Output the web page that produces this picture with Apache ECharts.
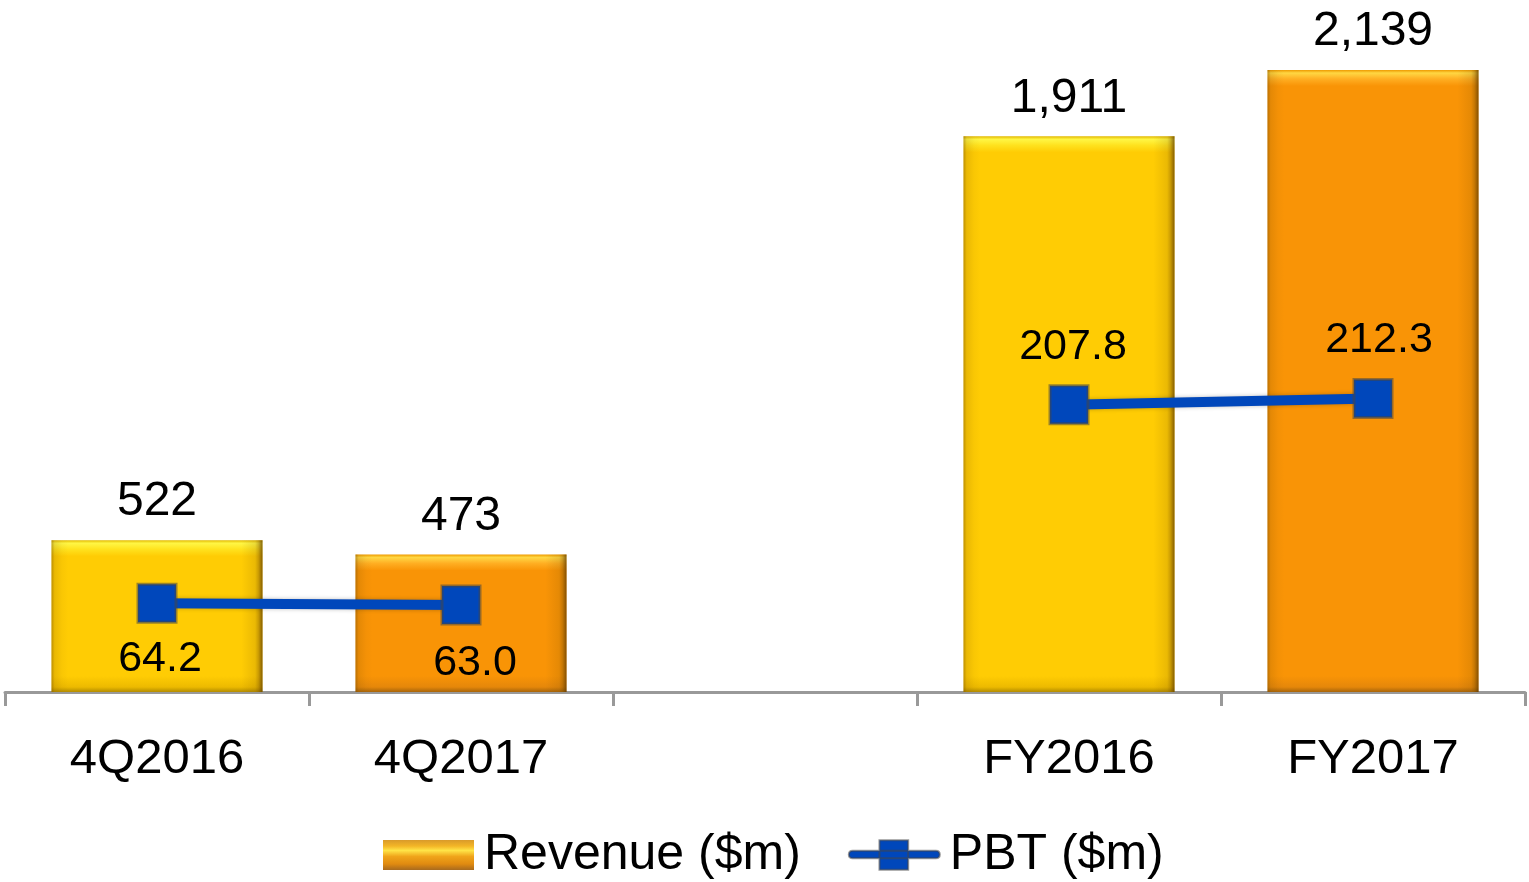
<!DOCTYPE html>
<html>
<head>
<meta charset="utf-8">
<style>
  html, body { margin: 0; padding: 0; background: #fff; }
  #chart-container { width: 1529px; height: 882px; }
</style>
<script src="https://cdn.jsdelivr.net/npm/echarts@6/dist/echarts.min.js"></script>
</head>
<body>
<div id="chart-container"></div>
<script>
var dom = document.getElementById('chart-container');
var myChart = echarts.init(dom, null, { renderer: 'canvas' });

// data
const categories = ['4Q2016', '4Q2017', '', 'FY2016', 'FY2017'];
const revenue = [522, 473, null, 1911, 2139];
const pbt = [64.2, 63.0, null, 207.8, 212.3];
const barTone = ['yellow', 'orange', null, 'yellow', 'orange'];
const pbtLabelPos = ['bottom', 'bottom', null, 'top', 'top'];

const FONT = 'Liberation Sans, Arial, sans-serif';
const REV_MAX = 2139;
const PBT_MAX = 450;
const PLOT_H = 622;

const TONES = {
  yellow: { edge: '#E2B800', hi: '#FFF645', hi2: '#FFE21E', main: '#FFCC04', low: '#EDBA00', dark: '#B38C00' },
  orange: { edge: '#EE9A00', hi: '#FFD743', hi2: '#FFAE22', main: '#F99406', low: '#E5870A', dark: '#A8650A' }
};

// top bevel / bottom shade in pixels, turned into stops for each bar height
function barGradient(tone, value) {
  const t = TONES[tone];
  const h = value / REV_MAX * PLOT_H;
  const f = px => Math.min(px / h, 0.49);
  return new echarts.graphic.LinearGradient(0, 0, 0, 1, [
    { offset: 0, color: t.edge },
    { offset: f(3), color: t.hi },
    { offset: f(9), color: t.hi2 },
    { offset: f(16), color: t.main },
    { offset: 1 - f(16), color: t.main },
    { offset: 1 - f(5), color: t.low },
    { offset: 1, color: t.dark }
  ]);
}

const sideShade = new echarts.graphic.LinearGradient(0, 0, 1, 0, [
  { offset: 0, color: 'rgba(110,70,0,0.45)' },
  { offset: 0.015, color: 'rgba(110,70,0,0.15)' },
  { offset: 0.05, color: 'rgba(110,70,0,0.04)' },
  { offset: 0.08, color: 'rgba(110,70,0,0)' },
  { offset: 0.9, color: 'rgba(110,70,0,0)' },
  { offset: 0.965, color: 'rgba(110,70,0,0.14)' },
  { offset: 0.98, color: 'rgba(110,70,0,0.35)' },
  { offset: 1, color: 'rgba(90,55,0,0.75)' }
]);

const legendRevColor = new echarts.graphic.LinearGradient(0, 0, 0, 1, [
  { offset: 0, color: '#D99A2A' },
  { offset: 0.2, color: '#F3B526' },
  { offset: 0.35, color: '#FFE347' },
  { offset: 0.55, color: '#F0A41A' },
  { offset: 0.8, color: '#E08A10' },
  { offset: 1, color: '#A86A1E' }
]);

const revData = revenue.map((v, i) => v == null ? null : {
  value: v,
  itemStyle: { color: barGradient(barTone[i], v) }
});

const pbtOffsets = [[3, 0], [14, 2], null, [4, 0], [6, 0]];
const pbtData = pbt.map((v, i) => v == null ? null : {
  value: v,
  label: {
    position: pbtLabelPos[i],
    distance: pbtLabelPos[i] === 'top' ? 16 : 14,
    offset: pbtOffsets[i]
  }
});

var option = {
  animation: false,
  textStyle: { fontFamily: FONT },
  grid: { left: 5, right: 4, top: 70, bottom: 190, containLabel: false },
  legend: {
    left: 378,
    top: 825,
    itemWidth: 91,
    itemHeight: 30,
    itemGap: 47,
    textStyle: { fontSize: 50, color: '#000', fontFamily: FONT, padding: [0, 0, 0, 5] },
    data: [
      { name: 'Revenue ($m)', icon: 'rect', itemStyle: { color: legendRevColor } },
      {
        name: 'PBT ($m)',
        icon: 'path://M4,11 L91,11 Q95,11 95,15 Q95,19 91,19 L4,19 Q0,19 0,15 Q0,11 4,11 Z M32,0 L62,0 L62,31 L32,31 Z',
        itemStyle: { color: '#0047BB' }
      }
    ]
  },
  xAxis: {
    type: 'category',
    data: categories,
    boundaryGap: true,
    axisLine: { show: true, lineStyle: { color: '#999', width: 3 } },
    axisTick: { show: true, alignWithLabel: false, length: 14, lineStyle: { color: '#999', width: 3 } },
    axisLabel: { fontSize: 49, color: '#000', margin: 43, fontFamily: FONT },
    splitLine: { show: false }
  },
  yAxis: [
    { type: 'value', min: 0, max: REV_MAX, show: false, splitLine: { show: false } },
    { type: 'value', min: 0, max: PBT_MAX, show: false, splitLine: { show: false } }
  ],
  series: [
    {
      name: 'Revenue ($m)',
      type: 'bar',
      yAxisIndex: 0,
      barWidth: 211,
      data: revData,
      itemStyle: { color: legendRevColor },
      label: {
        show: true,
        position: 'top',
        distance: 14,
        fontSize: 48,
        color: '#000',
        fontFamily: FONT,
        formatter: p => p.value.toLocaleString('en-US')
      },
      z: 2
    },
    {
      name: 'bevel',
      type: 'bar',
      yAxisIndex: 0,
      barWidth: 211,
      barGap: '-100%',
      data: revenue,
      silent: true,
      itemStyle: { color: sideShade },
      z: 3
    },
    {
      name: 'PBT ($m)',
      type: 'line',
      yAxisIndex: 1,
      data: pbtData,
      connectNulls: false,
      symbol: 'rect',
      symbolSize: 38,
      color: '#0047BB',
      lineStyle: { color: '#0047BB', width: 10, shadowColor: 'rgba(0,0,0,0.25)', shadowBlur: 4 },
      itemStyle: { color: '#0047BB', borderColor: 'rgba(70,70,70,0.55)', borderWidth: 3 },
      label: {
        show: true,
        fontSize: 43,
        color: '#000',
        fontFamily: FONT,
        formatter: p => Number(p.value).toFixed(1)
      },
      z: 5
    }
  ]
};

myChart.setOption(option);
window.addEventListener('resize', myChart.resize);
</script>
</body>
</html>
